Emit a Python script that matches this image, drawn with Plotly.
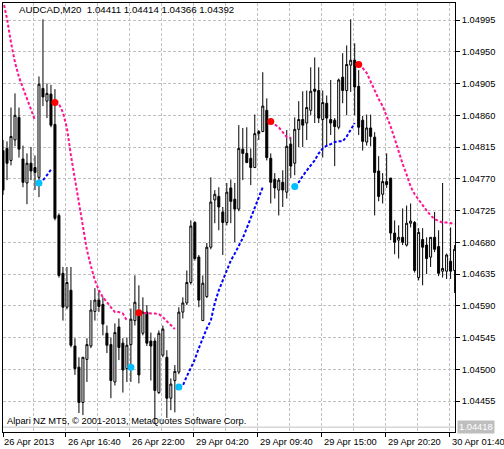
import plotly.graph_objects as go

# ---------------- data (AUDCAD, M20) ----------------
bars = list(range(-1, 113))  # bar index, left to right

open_ = [1.04810, 1.04813, 1.04796, 1.04825, 1.04857, 1.04798, 1.04764, 1.04792, 1.04786, 1.04772,
         1.04898, 1.04880, 1.04890, 1.04847, 1.04718, 1.04636, 1.04588, 1.04612, 1.04533, 1.04503,
         1.04453, 1.04514, 1.04533, 1.04582, 1.04598, 1.04592, 1.04551, 1.04535, 1.04482, 1.04560,
         1.04537, 1.04501, 1.04535, 1.04569, 1.04581, 1.04551, 1.04581, 1.04540, 1.04540, 1.04467,
         1.04520, 1.04517, 1.04459, 1.04484, 1.04496, 1.04581, 1.04594, 1.04623, 1.04708, 1.04659,
         1.04569, 1.04603, 1.04673, 1.04740, 1.04745, 1.04723, 1.04708, 1.04757, 1.04741, 1.04727,
         1.04812, 1.04806, 1.04799, 1.04786, 1.04834, 1.04837, 1.04867, 1.04799, 1.04769, 1.04754,
         1.04765, 1.04751, 1.04819, 1.04792, 1.04840, 1.04854, 1.04849, 1.04867, 1.04897, 1.04895,
         1.04854, 1.04877, 1.04854, 1.04853, 1.04843, 1.04914, 1.04895, 1.04931, 1.04938, 1.04901,
         1.04853, 1.04822, 1.04842, 1.04829, 1.04781, 1.04748, 1.04766, 1.04771, 1.04693, 1.04683,
         1.04687, 1.04676, 1.04707, 1.04708, 1.04630, 1.04684, 1.04676, 1.04659, 1.04687, 1.04674,
         1.04639, 1.04639, 1.04653, 1.04640]

high = [1.04825, 1.04823, 1.04871, 1.04891, 1.04871, 1.04817, 1.04806, 1.04815, 1.04803, 1.04915,
        1.04996, 1.04905, 1.04903, 1.04897, 1.04721, 1.04645, 1.04645, 1.04645, 1.04544, 1.04517,
        1.04517, 1.04544, 1.04598, 1.04615, 1.04612, 1.04602, 1.04562, 1.04545, 1.04565, 1.04572,
        1.04544, 1.04545, 1.04586, 1.04633, 1.04619, 1.04602, 1.04591, 1.04552, 1.04544, 1.04555,
        1.04562, 1.04527, 1.04487, 1.04506, 1.04588, 1.04602, 1.04640, 1.04711, 1.04710, 1.04662,
        1.04633, 1.04679, 1.04772, 1.04754, 1.04758, 1.04730, 1.04764, 1.04769, 1.04764, 1.04846,
        1.04842, 1.04843, 1.04813, 1.04861, 1.04839, 1.04921, 1.04884, 1.04806, 1.04778, 1.04771,
        1.04782, 1.04839, 1.04829, 1.04857, 1.04880, 1.04894, 1.04895, 1.04928, 1.04942, 1.04928,
        1.04895, 1.04888, 1.04910, 1.04856, 1.04912, 1.04948, 1.04959, 1.04996, 1.04962, 1.04924,
        1.04859, 1.04861, 1.04861, 1.04836, 1.04802, 1.04778, 1.04806, 1.04771, 1.04711, 1.04704,
        1.04728, 1.04732, 1.04735, 1.04710, 1.04700, 1.04700, 1.04687, 1.04687, 1.04723, 1.04697,
        1.04764, 1.04664, 1.04701, 1.04676]

low = [1.04747, 1.04768, 1.04789, 1.04816, 1.04800, 1.04758, 1.04734, 1.04768, 1.04754, 1.04744,
       1.04873, 1.04856, 1.04843, 1.04711, 1.04630, 1.04569, 1.04585, 1.04531, 1.04492, 1.04438,
       1.04435, 1.04482, 1.04530, 1.04569, 1.04581, 1.04548, 1.04523, 1.04459, 1.04477, 1.04513,
       1.04467, 1.04482, 1.04482, 1.04562, 1.04480, 1.04548, 1.04533, 1.04484, 1.04423, 1.04465,
       1.04517, 1.04431, 1.04442, 1.04439, 1.04493, 1.04572, 1.04591, 1.04620, 1.04654, 1.04588,
       1.04569, 1.04601, 1.04670, 1.04707, 1.04697, 1.04662, 1.04704, 1.04707, 1.04680, 1.04724,
       1.04768, 1.04792, 1.04761, 1.04785, 1.04825, 1.04836, 1.04796, 1.04735, 1.04742, 1.04718,
       1.04730, 1.04742, 1.04771, 1.04775, 1.04815, 1.04815, 1.04825, 1.04860, 1.04849, 1.04849,
       1.04800, 1.04815, 1.04832, 1.04788, 1.04840, 1.04877, 1.04860, 1.04893, 1.04860, 1.04832,
       1.04810, 1.04817, 1.04816, 1.04718, 1.04738, 1.04735, 1.04757, 1.04683, 1.04663, 1.04657,
       1.04676, 1.04674, 1.04701, 1.04637, 1.04626, 1.04619, 1.04635, 1.04645, 1.04666, 1.04632,
       1.04630, 1.04628, 1.04628, 1.04608]

close = [1.04754, 1.04792, 1.04830, 1.04860, 1.04812, 1.04765, 1.04792, 1.04781, 1.04779, 1.04904,
         1.04886, 1.04891, 1.04846, 1.04714, 1.04633, 1.04588, 1.04623, 1.04534, 1.04501, 1.04453,
         1.04517, 1.04535, 1.04584, 1.04598, 1.04589, 1.04564, 1.04534, 1.04484, 1.04552, 1.04531,
         1.04499, 1.04534, 1.04571, 1.04595, 1.04492, 1.04581, 1.04537, 1.04533, 1.04470, 1.04551,
         1.04557, 1.04459, 1.04479, 1.04497, 1.04581, 1.04594, 1.04623, 1.04703, 1.04657, 1.04598,
         1.04622, 1.04673, 1.04737, 1.04748, 1.04730, 1.04708, 1.04751, 1.04738, 1.04727, 1.04813,
         1.04806, 1.04793, 1.04786, 1.04834, 1.04837, 1.04873, 1.04800, 1.04765, 1.04757, 1.04768,
         1.04754, 1.04816, 1.04788, 1.04840, 1.04854, 1.04846, 1.04871, 1.04894, 1.04894, 1.04856,
         1.04878, 1.04856, 1.04849, 1.04844, 1.04910, 1.04895, 1.04932, 1.04938, 1.04900, 1.04843,
         1.04823, 1.04842, 1.04830, 1.04779, 1.04745, 1.04766, 1.04762, 1.04693, 1.04680, 1.04687,
         1.04680, 1.04707, 1.04710, 1.04640, 1.04694, 1.04673, 1.04657, 1.04687, 1.04670, 1.04636,
         1.04643, 1.04662, 1.04639, 1.04670]

N = None
# indicator: falling (above price) and rising (below price) lines
down_line = [1.05023, 1.04997, 1.04963, 1.04935, 1.04914, 1.04898, 1.04884, 1.04867, 1.04853,
             N, N, N, N,
             1.04878, 1.04876, 1.04864, 1.04842, 1.04803, 1.04771, 1.04737, 1.04701, 1.04669, 1.04646,
             1.04626, 1.04612, 1.04602, 1.04595, 1.04588, 1.04581, 1.04581, 1.04579, 1.04569,
             N, N,
             1.04580, 1.04580, 1.04580, 1.04580, 1.04579, 1.04578, 1.04574, 1.04568, 1.04562, 1.04557,
             N, N, N, N, N, N, N, N, N, N, N, N, N, N, N, N, N, N, N, N, N, N, N,
             1.04851, 1.04847, 1.04843, 1.04836, 1.04829, 1.04828,
             N, N, N, N, N, N, N, N, N, N, N, N, N, N, N, N,
             1.04932, 1.04927, 1.04920, 1.04907, 1.04894, 1.04883, 1.04873, 1.04859, 1.04844, 1.04827,
             1.04808, 1.04791, 1.04776, 1.04759, 1.04748, 1.04740, 1.04732, 1.04725, 1.04718, 1.04713,
             1.04710, 1.04708, 1.04708, 1.04707, 1.04706]

up_line = [N, N, N, N, N, N, N, N, N,
           1.04764, 1.04768, 1.04775, 1.04783,
           N, N, N, N, N, N, N, N, N, N, N, N, N, N, N, N, N, N, N,
           1.04503, 1.04507,
           N, N, N, N, N, N, N, N, N, N,
           1.04475, 1.04477, 1.04490, 1.04501, 1.04514, 1.04530, 1.04545, 1.04558, 1.04569, 1.04594,
           1.04612, 1.04626, 1.04640, 1.04654, 1.04664, 1.04674, 1.04686, 1.04700, 1.04715, 1.04730,
           1.04742, 1.04758,
           N, N, N, N, N, N, N,
           1.04759, 1.04765, 1.04774, 1.04782, 1.04789, 1.04796, 1.04806, 1.04813, 1.04817, 1.04819,
           1.04822, 1.04823, 1.04823, 1.04830, 1.04840, 1.04849,
           N, N, N, N, N, N, N, N, N, N, N, N, N, N, N, N, N, N, N, N, N, N, N, N, N]

price_ticks = [1.04455, 1.04500, 1.04545, 1.04590, 1.04635, 1.04680, 1.04725,
               1.04770, 1.04815, 1.04860, 1.04905, 1.04950, 1.04995]
time_labels = ["26 Apr 2013", "26 Apr 16:40", "26 Apr 22:00", "29 Apr 04:20",
               "29 Apr 09:40", "29 Apr 15:00", "29 Apr 20:20", "30 Apr 01:40"]
time_label_bars = [-1, 14.75, 30.75, 46.75, 62.75, 78.75, 94.75, 110.75]
grid_bars_minor = [6.75, 22.75, 38.75, 54.75, 70.75, 86.75, 102.75]
bid_price = 1.04418
header = "AUDCAD,M20  1.04411 1.04414 1.04366 1.04392"
copyright_text = "Alpari NZ MT5, \u00a9 2001-2013, MetaQuotes Software Corp."

# signal dots at the start of each line segment
up_sig_x, up_sig_y, dn_sig_x, dn_sig_y = [], [], [], []
for k in range(1, len(bars)):
    if up_line[k] is not None and up_line[k - 1] is None:
        up_sig_x.append(bars[k]); up_sig_y.append(up_line[k])
    if down_line[k] is not None and down_line[k - 1] is None:
        dn_sig_x.append(bars[k]); dn_sig_y.append(down_line[k])

FONT = "Liberation Sans, Arial, sans-serif"
FS = 9.3
GRID = "#c0c0c0"
PINK = "#ff1493"
BLUE = "#0000ff"

fig = go.Figure()
fig.add_trace(go.Candlestick(
    x=bars, open=open_, high=high, low=low, close=close,
    increasing=dict(line=dict(color="black", width=1), fillcolor="white"),
    decreasing=dict(line=dict(color="black", width=1), fillcolor="black"),
    whiskerwidth=0, hoverinfo="skip", showlegend=False))
fig.add_trace(go.Scatter(x=bars, y=down_line, mode="lines", connectgaps=False,
                         line=dict(color=PINK, width=2, dash="3px,2px"),
                         hoverinfo="skip", showlegend=False))
fig.add_trace(go.Scatter(x=bars, y=up_line, mode="lines", connectgaps=False,
                         line=dict(color=BLUE, width=2, dash="3px,2px"),
                         hoverinfo="skip", showlegend=False))
fig.add_trace(go.Scatter(x=dn_sig_x, y=dn_sig_y, mode="markers",
                         marker=dict(color="#ff0000", size=7, line=dict(width=0)),
                         hoverinfo="skip", showlegend=False))
fig.add_trace(go.Scatter(x=up_sig_x, y=up_sig_y, mode="markers",
                         marker=dict(color="#00bfff", size=7, line=dict(width=0)),
                         hoverinfo="skip", showlegend=False))

# bid line
fig.add_shape(type="line", xref="paper", x0=0, x1=1, yref="y", y0=bid_price, y1=bid_price,
              line=dict(color="#c0c0c0", width=1), layer="below")
fig.add_annotation(xref="paper", x=1, xanchor="left", xshift=2, yref="y", y=bid_price,
                   yanchor="middle", text=f"{bid_price:.5f}", showarrow=False,
                   bgcolor="#bebebe", font=dict(family=FONT, size=FS, color="white"),
                   borderpad=1)

# header and copyright
fig.add_annotation(xref="paper", yref="paper", x=0.031, y=1, yshift=-6.5, xanchor="left",
                   yanchor="middle", text=header, showarrow=False,
                   font=dict(family=FONT, size=9.7, color="black"))
fig.add_annotation(xref="paper", yref="paper", x=0.0044, y=0, yshift=11.5, xanchor="left",
                   yanchor="middle", text=copyright_text, showarrow=False,
                   font=dict(family=FONT, size=FS, color="black"))

# time labels, left-aligned at their ticks
for xb, lab in zip(time_label_bars, time_labels):
    fig.add_annotation(xref="x", yref="paper", x=xb, y=0, yshift=-10, xanchor="left",
                       xshift=-1 if xb < 0 else 0,
                       yanchor="middle", text=lab, showarrow=False,
                       font=dict(family=FONT, size=FS, color="black"))

fig.update_layout(
    width=504, height=449,
    margin=dict(l=3, r=49, t=3, b=17, pad=0),
    paper_bgcolor="white", plot_bgcolor="white",
    hovermode=False, showlegend=False,
    boxgap=0.5, boxgroupgap=0,
    font=dict(family=FONT, size=FS, color="black"),
    xaxis=dict(range=[-1, 112.1], rangeslider=dict(visible=False),
               showline=True, mirror=True, linecolor="black", linewidth=1,
               ticks="outside", ticklen=4, tickcolor="black", tickwidth=1,
               tickvals=time_label_bars, showticklabels=False,
               showgrid=True, gridcolor=GRID, griddash="3px,2px", gridwidth=1,
               minor=dict(tickvals=grid_bars_minor, showgrid=True, gridcolor=GRID,
                          griddash="3px,2px", gridwidth=1, ticks=""),
               zeroline=False, fixedrange=True),
    yaxis=dict(range=[1.044111, 1.050191], side="right",
               showline=True, mirror=True, linecolor="black", linewidth=1,
               ticks="outside", ticklen=4, tickcolor="black", tickwidth=1,
               tickvals=price_ticks, ticktext=[f"{v:.5f}" for v in price_ticks],
               tickfont=dict(family=FONT, size=FS, color="black"),
               showgrid=True, gridcolor=GRID, griddash="3px,2px", gridwidth=1,
               zeroline=False, fixedrange=True),
)

fig.write_html("out.html", config={"displayModeBar": False},
               post_script="document.body.style.margin='0';document.body.style.overflow='hidden';")
